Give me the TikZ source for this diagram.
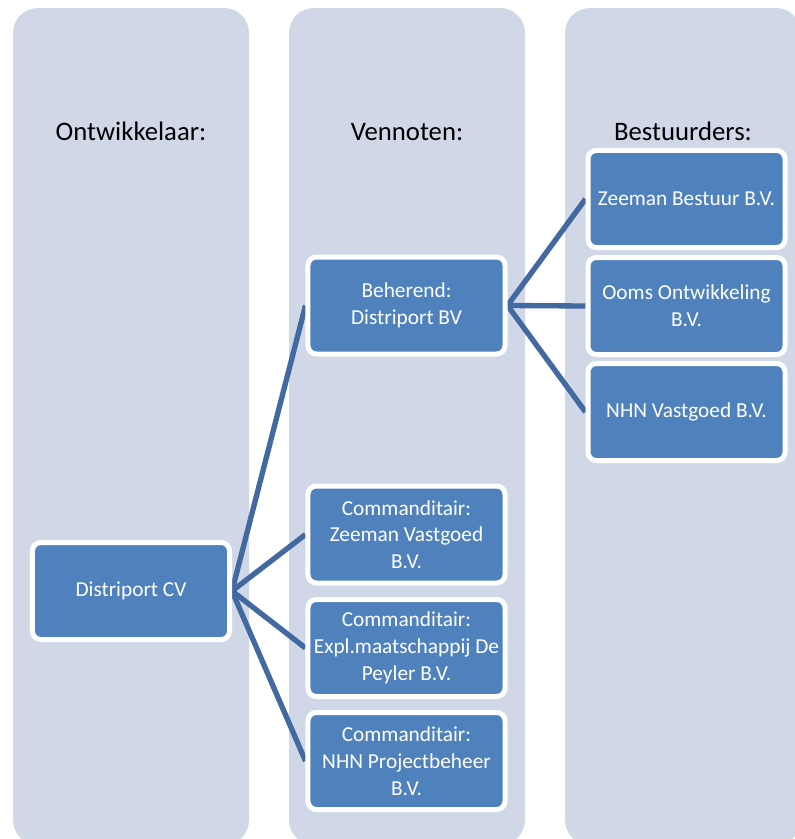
\documentclass[tikz,border=0pt]{standalone}
\usepackage{fontspec}
\setmainfont{Carlito}
\definecolor{colbg}{RGB}{208,216,232}
\definecolor{boxblue}{RGB}{79,129,189}
\definecolor{linkblue}{RGB}{66,106,160}
\pgfdeclarelayer{bg}
\pgfdeclarelayer{links}
\pgfsetlayers{bg,links,main}

\begin{document}
\begin{tikzpicture}[x=0.03cm,y=-0.03cm,
    column/.style={fill=colbg,rounded corners=0.75cm},
    header/.style={anchor=base,font=\fontsize{22.8}{26}\selectfont},
    entity/.style={draw=white,line width=0.15cm,fill=boxblue,rounded corners=0.25cm,
      minimum width=5.91cm,minimum height=2.91cm,inner sep=0pt,align=center,
      text=white,font=\fontsize{18.2}{22.8}\selectfont},
    link/.style={draw=linkblue,line width=0.16cm}]
      \clip (0,0) rectangle (795,839);
      % the three columns
      \begin{pgfonlayer}{bg}
        \fill[white] (0,0) rectangle (795,839);
        \path[column] (13,8) rectangle (249,845);
        \path[column] (289,8) rectangle (525,845);
        \path[column] (565,8) rectangle (801,845);
      \end{pgfonlayer}
      \node[header] (hdev) at (131,140) {Ontwikkelaar:};
      \node[header] (hpart) at (407,140) {Vennoten:};
      \node[header] (hbst) at (683,140) {Bestuurders:};
      % companies
      \node[entity] (cv) at (131,591) {Distriport CV};
      \node[entity] (beh) at (406.5,305.5) {Beherend:\\Distriport BV};
      \node[entity] (com1) at (406.5,534.5) {Commanditair:\\Zeeman Vastgoed\\B.V.};
      \node[entity] (com2) at (406.5,648) {Commanditair:\\Expl.maatschappij De\\Peyler B.V.};
      \node[entity] (com3) at (406.5,761) {Commanditair:\\NHN Projectbeheer\\B.V.};
      \node[entity] (bst1) at (686.5,199) {Zeeman Bestuur B.V.};
      \node[entity] (bst2) at (686.5,306) {Ooms Ontwikkeling\\B.V.};
      \node[entity] (bst3) at (686.5,412) {NHN Vastgoed B.V.};
      % routine for the links
      \begin{pgfonlayer}{links}
        \draw[link] (cv.east) -- (beh.west);
        \draw[link] (cv.east) -- (com1.west);
        \draw[link] (cv.east) -- (com2.west);
        \draw[link] (cv.east) -- (com3.west);
        \draw[link] (beh.east) -- (bst1.west);
        \draw[link] (beh.east) -- (bst2.west);
        \draw[link] (beh.east) -- (bst3.west);
      \end{pgfonlayer}
    \end{tikzpicture}
\end{document}
